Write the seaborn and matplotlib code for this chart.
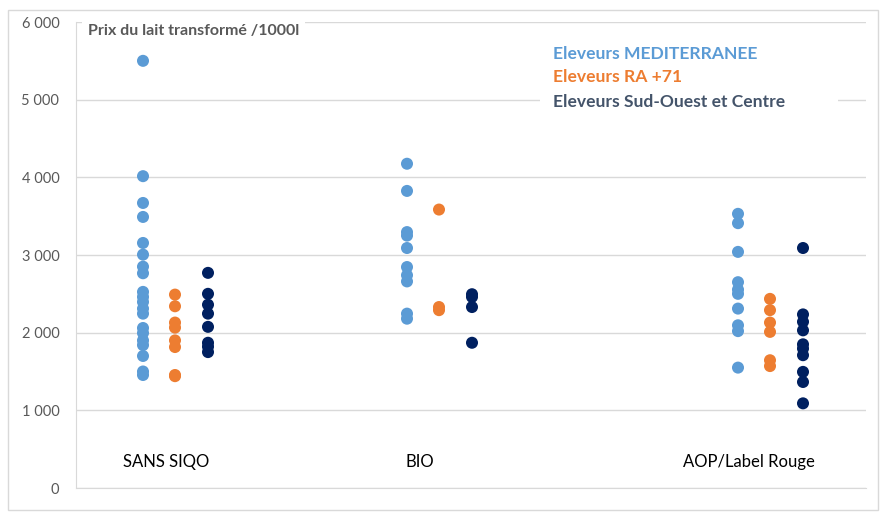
import matplotlib.pyplot as plt
import matplotlib.ticker as mticker
import numpy as np
import pandas as pd
import seaborn as sns
from matplotlib.patches import Rectangle

# Valeurs (prix du lait transformé, €/1000 l)
categories = ["SANS SIQO", "BIO", "AOP/Label Rouge"]
series = ["Eleveurs MEDITERRANEE", "Eleveurs RA +71", "Eleveurs Sud-Ouest et Centre"]

med_sans = [5500, 4015, 3670, 3490, 3155, 3005, 2850, 2765, 2525, 2460, 2395,
            2310, 2245, 2060, 1995, 1900, 1840, 1700, 1500, 1455]
ra_sans = [2490, 2340, 2130, 2065, 1900, 1815, 1455, 1440]
so_sans = [2770, 2500, 2360, 2245, 2075, 1870, 1820, 1750]

med_bio = [4175, 3825, 3295, 3250, 3090, 2845, 2740, 2660, 2245, 2180]
ra_bio = [3585, 2330, 2290]
so_bio = [2495, 2460, 2330, 1870]

med_aop = [3530, 3410, 3040, 2650, 2555, 2500, 2310, 2095, 2020, 1550]
ra_aop = [2435, 2290, 2130, 2010, 1645, 1570]
so_aop = [3090, 2235, 2140, 2030, 1850, 1795, 1710, 1495, 1365, 1090]

values = {
    ("SANS SIQO", series[0]): med_sans,
    ("SANS SIQO", series[1]): ra_sans,
    ("SANS SIQO", series[2]): so_sans,
    ("BIO", series[0]): med_bio,
    ("BIO", series[1]): ra_bio,
    ("BIO", series[2]): so_bio,
    ("AOP/Label Rouge", series[0]): med_aop,
    ("AOP/Label Rouge", series[1]): ra_aop,
    ("AOP/Label Rouge", series[2]): so_aop,
}

rows = []
for (cat, ser), vals in values.items():
    for v in vals:
        rows.append({"Categorie": cat, "Serie": ser, "Prix": v})
df = pd.DataFrame(rows)

# position horizontale des groupes (comme le nuage Excel d'origine)
cat_pos = {"SANS SIQO": 175, "BIO": 439, "AOP/Label Rouge": 770}
ser_off = {series[0]: -32, series[1]: 0, series[2]: 33}
df["x"] = df["Categorie"].map(cat_pos) + df["Serie"].map(ser_off)

colors = ["#5B9BD5", "#ED7D31", "#002060"]
legend_colors = ["#5B9BD5", "#ED7D31", "#44546A"]

sns.set_style("white")
plt.rcParams["font.family"] = ["Lato", "DejaVu Sans"]

fig = plt.figure(figsize=(8.81, 5.13), dpi=100)
ax = fig.add_axes([76 / 881, 25 / 513, 790 / 881, 466 / 513])

sns.scatterplot(data=df, x="x", y="Prix", hue="Serie", hue_order=series,
                palette=colors, s=75, linewidth=0, ax=ax, legend=False,
                zorder=3)

ax.set_xlim(76, 866)
ax.set_ylim(0, 6000)
ax.set_yticks(np.arange(0, 6001, 1000))
ax.yaxis.set_major_formatter(
    mticker.FuncFormatter(lambda v, p: f"{int(v):,}".replace(",", " ")))
ax.set_xticks([])
ax.set_xlabel("")
ax.set_ylabel("")
ax.tick_params(axis="y", length=0, pad=12, labelsize=10.5, labelcolor="#595959")
ax.grid(axis="y", color="#D9D9D9", linewidth=1)
ax.set_axisbelow(True)
for side in ["top", "right"]:
    ax.spines[side].set_visible(False)
ax.spines["left"].set_color("#D9D9D9")
ax.spines["bottom"].set_color("#D9D9D9")

# étiquettes des catégories, dans la zone du graphique
label_x = {"SANS SIQO": 166, "BIO": 420, "AOP/Label Rouge": 749}
for cat in categories:
    ax.text(label_x[cat], 335, cat, ha="center", va="center",
            fontsize=12, color="#000000")

# titre de l'axe
ax.text(88, 5880, "Prix du lait transformé /1000l", ha="left", va="center",
        fontsize=11.5, fontweight="bold", color="#595959", zorder=4,
        bbox=dict(facecolor="white", edgecolor="none", pad=4))

# légende en texte coloré
leg_y = [5590, 5290, 4970]
for ser, col, yy in zip(series, legend_colors, leg_y):
    ax.text(553, yy, ser, ha="left", va="center", fontsize=12.6,
            fontweight="bold", color=col, zorder=4)
ax.add_patch(Rectangle((540, 4780), 298, 950, facecolor="white",
                       edgecolor="none", zorder=2.5))

# cadre extérieur
fig.patches.append(Rectangle((8 / 881, 3 / 513), 870 / 881, 500 / 513,
                             transform=fig.transFigure, fill=False,
                             edgecolor="#D9D9D9", linewidth=1))

plt.savefig("out.png", dpi=100)
